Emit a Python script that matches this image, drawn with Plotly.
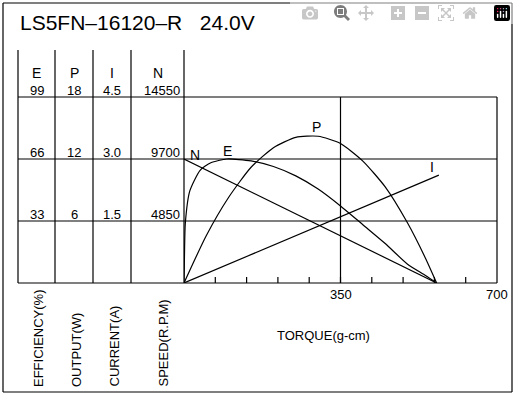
import plotly.graph_objects as go

# torque (g-cm) and readings taken off the curves
torque_n = [0, 565]
speed = [9700, 0]                      # rpm
torque_i = [0, 570]
current = [0, 2.61]                    # A
torque_p = [0, 50, 100, 150, 200, 250, 300, 350, 400, 450, 500, 540, 565]
output = [0, 4.6, 8.3, 11.2, 13.1, 14.1, 14.2, 13.5, 11.8, 9.3, 5.8, 2.4, 0]  # W
torque_e = [0, 1, 3, 13, 36, 60, 96, 150, 200, 250, 300, 350, 400, 450, 500, 540, 565]
efficiency = [0, 14, 32, 49, 60, 64, 66, 65, 62, 57, 50, 41, 31, 21, 10, 4, 0]  # %

header = ["E", "P", "I", "N"]
row_labels = [["99", "18", "4.5", "14550"],
              ["66", "12", "3.0", "9700"],
              ["33", "6", "1.5", "4850"]]
units = ["EFFICIENCY(%)", "OUTPUT(W)", "CURRENT(A)", "SPEED(R.P.M)"]
full = {"E": 99, "P": 18, "I": 4.5, "N": 14550}

FONT = "Liberation Sans"
W, H = 516, 400
X0, X1, Y0, Y1 = 184, 497, 97, 283   # plot box in pixels

fig = go.Figure()
for xs, ys, k in [(torque_n, speed, "N"), (torque_i, current, "I"),
                  (torque_p, output, "P"), (torque_e, efficiency, "E")]:
    fig.add_trace(go.Scatter(x=xs, y=[v / full[k] * 99 for v in ys], mode="lines",
                             line=dict(color="black", width=1.2, shape="spline", smoothing=0.6),
                             xaxis="x2", yaxis="y2", hoverinfo="skip"))

shapes = []
def seg(x0, y0, x1, y1, w=1.2):
    shapes.append(dict(type="line", xref="x", yref="y", x0=x0, y0=y0, x1=x1, y1=y1,
                       line=dict(color="black", width=w)))

seg(3, 3, 512, 3); seg(3, 392, 512, 392); seg(3, 3, 3, 392); seg(512, 3, 512, 392)
for cx in [18, 55, 93, 131]:
    seg(cx, 50, cx, Y1)
seg(X0, 50, X0, Y1)
for yy in [Y0, 159, 221, Y1]:
    seg(18, yy, X1, yy)
seg(X1, Y0, X1, Y1)
seg(X0 + (X1 - X0) / 2, Y0, X0 + (X1 - X0) / 2, Y1)
for i in range(1, 10):
    tx = X0 + (X1 - X0) * i / 10
    seg(tx, Y1, tx, Y1 - 6)

ann = []
def txt(x, y, s, size=13, xa="center", ya="middle", angle=0):
    ann.append(dict(x=x, y=y, xref="x", yref="y", text=s, showarrow=False, textangle=angle,
                    xanchor=xa, yanchor=ya, font=dict(family=FONT, size=size, color="black")))

txt(18, 22, "LS5FN&#8211;16120&#8211;R&nbsp;&nbsp;&nbsp;24.0V", size=21, xa="left")
cols = [(18, 55), (55, 93), (93, 131), (131, 184)]
for (a, b), h in zip(cols, header):
    txt((a + b) / 2, 73, h, size=14)
for row, yy in zip(row_labels, [Y0, 159, 221]):
    for j, ((a, b), s) in enumerate(zip(cols, row)):
        if j == 3:
            txt(b - 2, yy - 7, s, xa="right")
        else:
            txt((a + b) / 2, yy - 7, s)
for xx, u in zip([38, 76, 114, 163], units):
    txt(xx, 389, u, ya="bottom", angle=-90)
txt(195, 155, "N", size=14); txt(227, 151, "E", size=14)
txt(316, 127, "P", size=14); txt(432, 167, "I", size=14)
txt(341, 294, "350"); txt(497, 294, "700")
txt(275, 335, "TORQUE(g-cm)", xa="left")

fig.update_layout(
    width=W, height=H, margin=dict(l=0, r=0, t=0, b=0),
    paper_bgcolor="white", plot_bgcolor="rgba(0,0,0,0)", showlegend=False,
    xaxis=dict(range=[0, W], visible=False, domain=[0, 1]),
    yaxis=dict(range=[H, 0], visible=False, domain=[0, 1]),
    xaxis2=dict(range=[0, 700], visible=False, domain=[X0 / W, X1 / W], anchor="y2"),
    yaxis2=dict(range=[0, 99], visible=False, domain=[(H - Y1) / H, (H - Y0) / H], anchor="x2"),
    shapes=shapes, annotations=ann,
)
fig.write_html("out.html", post_script="document.body.style.margin='0';document.body.style.overflow='hidden';")
